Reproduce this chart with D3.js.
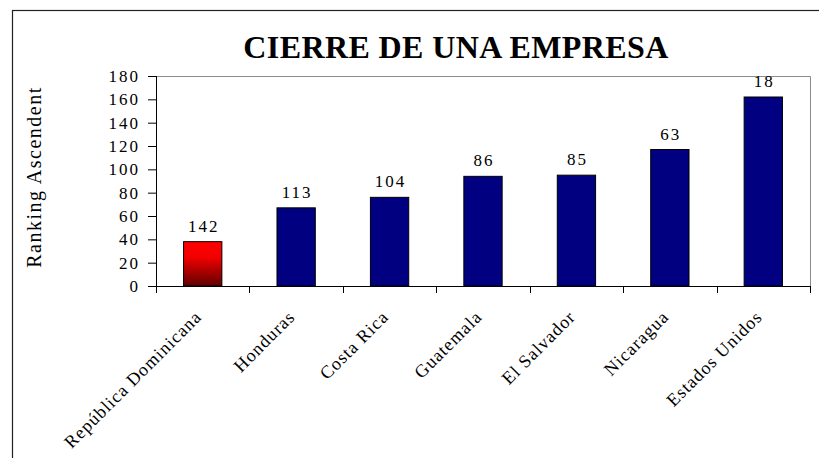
<!DOCTYPE html>
<html>
<head>
<meta charset="utf-8">
<script src="https://cdn.jsdelivr.net/npm/d3@7"></script>
<style>
  body { margin: 0; background: #fff; }
</style>
</head>
<body>
<svg id="chart" width="819" height="458"></svg>
<script>
// data
var paises = ["República Dominicana", "Honduras", "Costa Rica", "Guatemala", "El Salvador", "Nicaragua", "Estados Unidos"];
var valores = [38, 67, 76, 94, 95, 117, 162];
var etiquetas = ["142", "113", "104", "86", "85", "63", "18"];
var ticksY = [0, 20, 40, 60, 80, 100, 120, 140, 160, 180];

var fuente = "'Liberation Serif', 'Times New Roman', 'DejaVu Serif', serif";
var svg = d3.select("#chart");

// outer frame
svg.append("rect")
   .attr("x", 12.5).attr("y", 10.5)
   .attr("width", 830).attr("height", 470)
   .attr("fill", "none").attr("stroke", "#222").attr("stroke-width", 1.2);

var pLeft = 156, pTop = 76, pRight = 810, pBottom = 286;

var x = d3.scaleBand().domain(paises).range([pLeft, pRight]).paddingInner(0.59).paddingOuter(0.295);
var y = d3.scaleLinear().domain([0, 180]).range([pBottom, pTop]);

// gradient for the highlighted bar
var defs = svg.append("defs");
var grad = defs.append("linearGradient").attr("id", "rojo")
   .attr("x1", 0).attr("y1", 0).attr("x2", 0).attr("y2", 1);
grad.append("stop").attr("offset", "0").attr("stop-color", "#ff0000");
grad.append("stop").attr("offset", "0.35").attr("stop-color", "#f20000");
grad.append("stop").attr("offset", "1").attr("stop-color", "#600000");

// plot area top/right border
svg.append("path")
   .attr("d", "M" + pLeft + "," + (pTop + 0.5) + "H" + (pRight + 0.5) + "V" + pBottom)
   .attr("fill", "none").attr("stroke", "#8c8c8c");

// title
svg.append("text")
   .attr("x", 456).attr("y", 58)
   .attr("text-anchor", "middle")
   .style("font-family", fuente)
   .style("font-size", "32px").style("font-weight", "bold")
   .style("letter-spacing", "0.4px")
   .text("CIERRE DE UNA EMPRESA");

// y axis title
svg.append("text")
   .attr("transform", "translate(41,177) rotate(-90)")
   .attr("text-anchor", "middle")
   .style("font-family", fuente)
   .style("font-size", "20px")
   .style("letter-spacing", "1.5px")
   .text("Ranking Ascendent");

// bars
svg.selectAll("rect.bar").data(paises).enter().append("rect")
   .attr("class", "bar")
   .attr("x", function(d){ return x(d); })
   .attr("y", function(d, i){ return y(valores[i]); })
   .attr("width", x.bandwidth())
   .attr("height", function(d, i){ return pBottom - y(valores[i]); })
   .attr("fill", function(d, i){ return i == 0 ? "url(#rojo)" : "#000080"; })
   .attr("stroke", "#000").attr("stroke-width", 1);

// value labels
svg.selectAll("text.lbl").data(paises).enter().append("text")
   .attr("class", "lbl")
   .attr("x", function(d){ return x(d) + x.bandwidth() / 2 + 1; })
   .attr("y", function(d, i){ return y(valores[i]) - 10; })
   .attr("text-anchor", "middle")
   .style("font-family", fuente)
   .style("font-size", "17px")
   .style("letter-spacing", "2px")
   .text(function(d, i){ return etiquetas[i]; });

// y axis
var yAxis = svg.append("g")
   .attr("transform", "translate(" + pLeft + ",0)")
   .call(d3.axisLeft(y).tickValues(ticksY).tickSize(8).tickPadding(8));
yAxis.selectAll("text")
   .style("font-family", fuente).style("font-size", "17px")
   .style("letter-spacing", "2px").attr("fill", "#000");
yAxis.selectAll("line, path").attr("stroke", "#000");
yAxis.select(".domain").attr("d", "M0.5," + pTop + "V" + pBottom);

// x axis: ticks between categories
var step = x.step();
var cortes = d3.range(paises.length + 1).map(function(i){ return pLeft + i * step; });
var xg = svg.append("g");
xg.append("line")
   .attr("x1", pLeft).attr("x2", pRight + 1)
   .attr("y1", pBottom + 0.5).attr("y2", pBottom + 0.5)
   .attr("stroke", "#000");
xg.selectAll("line.tk").data(cortes).enter().append("line")
   .attr("class", "tk")
   .attr("x1", function(d){ return Math.round(d) + 0.5; })
   .attr("x2", function(d){ return Math.round(d) + 0.5; })
   .attr("y1", pBottom).attr("y2", pBottom + 7)
   .attr("stroke", "#000");

// category labels, rotated
xg.selectAll("text").data(paises).enter().append("text")
   .attr("transform", function(d){
     return "translate(" + (x(d) + x.bandwidth() / 2) + "," + (pBottom + 32) + ") rotate(-45)";
   })
   .attr("text-anchor", "end")
   .style("font-family", fuente)
   .style("font-size", "18px")
   .style("letter-spacing", "1px")
   .text(function(d){ return d; });
</script>
</body>
</html>
